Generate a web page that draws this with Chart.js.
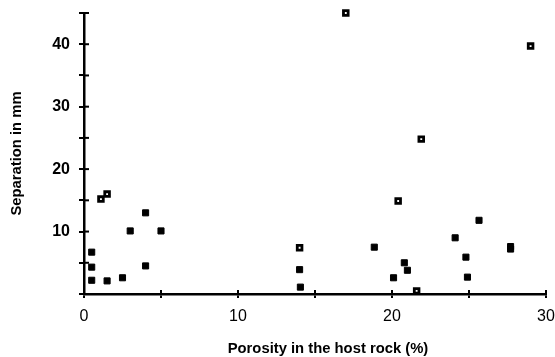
<!DOCTYPE html>
<html>
<head>
<meta charset="utf-8">
<script src="https://cdn.jsdelivr.net/npm/chart.js@4/dist/chart.umd.min.js"></script>
<style>
  html, body { margin: 0; padding: 0; background: #fff; }
  #wrap { width: 555px; height: 357px; }
</style>
</head>
<body>
<div id="wrap"><canvas id="c" width="555" height="357"></canvas></div>
<script>
// Filled squares
const filledX = [0.5, 0.5, 0.5, 1.5, 2.5, 3.0, 4.0, 4.0, 5.0, 14.0, 14.05, 18.85, 20.1, 20.8, 21.0, 24.1, 24.8, 24.9, 25.65, 27.7, 27.7];
const filledY = [6.7, 4.3, 2.2, 2.1, 2.6, 10.1, 13.0, 4.5, 10.1, 3.9, 1.1, 7.5, 2.6, 5.0, 3.8, 9.0, 5.9, 2.7, 11.8, 7.6, 7.2];
// Open squares
const openX = [1.1, 1.5, 14.0, 17.0, 20.4, 21.6, 21.9, 29.0];
const openY = [15.2, 16.0, 7.4, 45.0, 14.9, 0.5, 24.8, 39.7];

const xTitle = 'Porosity in the host rock (%)';
const yTitle = 'Separation in mm';
const xLabelTicks = [0, 10, 20, 30];
const yLabelTicks = [10, 20, 30, 40];

const FONT = '"Liberation Sans", Arial, Helvetica, sans-serif';

const toPts = (xs, ys) => xs.map((x, i) => ({ x: x, y: ys[i] }));

const crossTicks = {
  id: 'crossTicks',
  beforeDatasetsDraw(chart) {
    const ctx = chart.ctx;
    const xs = chart.scales.x, ys = chart.scales.y;
    const a = chart.chartArea;
    ctx.save();
    ctx.strokeStyle = '#000';
    ctx.lineWidth = 2;
    xs.ticks.forEach(t => {
      const px = xs.getPixelForValue(t.value);
      ctx.beginPath(); ctx.moveTo(px, a.bottom - 4); ctx.lineTo(px, a.bottom); ctx.stroke();
    });
    ys.ticks.forEach(t => {
      const py = ys.getPixelForValue(t.value);
      ctx.beginPath(); ctx.moveTo(a.left, py); ctx.lineTo(a.left + 5, py); ctx.stroke();
    });
    // x axis title
    ctx.fillStyle = '#000';
    ctx.font = 'bold 14.8px ' + FONT;
    ctx.textAlign = 'center';
    ctx.textBaseline = 'middle';
    ctx.fillText(xTitle, (a.left + a.right) / 2 + 13, 349);
    ctx.restore();
  }
};

new Chart(document.getElementById('c'), {
  type: 'scatter',
  data: {
    datasets: [
      {
        label: 'filled',
        data: toPts(filledX, filledY),
        pointStyle: 'rect',
        pointRadius: 4.3,
        pointBorderWidth: 1,
        backgroundColor: '#000',
        borderColor: '#000',
        clip: false
      },
      {
        label: 'open',
        data: toPts(openX, openY),
        pointStyle: 'rect',
        pointRadius: 3.3,
        pointBorderWidth: 2.8,
        backgroundColor: '#fff',
        borderColor: '#000',
        clip: false
      }
    ]
  },
  options: {
    responsive: false,
    animation: false,
    events: [],
    layout: { padding: { left: 0, right: 9, top: 13, bottom: 0 } },
    plugins: { legend: { display: false }, tooltip: { enabled: false } },
    scales: {
      x: {
        type: 'linear',
        min: 0, max: 30,
        afterFit(s) { s.height = 63; s.paddingLeft = 0; s.paddingRight = 0; },
        border: { display: true, color: '#000', width: 2.5 },
        grid: { drawOnChartArea: false, drawTicks: true, tickLength: 4, color: '#000', lineWidth: 2 },
        ticks: {
          stepSize: 5,
          autoSkip: false,
          maxRotation: 0,
          padding: 9,
          color: '#000',
          font: { family: FONT, size: 16 },
          callback: v => xLabelTicks.includes(v) ? String(v) : ''
        },
        title: { display: false }
      },
      y: {
        type: 'linear',
        min: 0, max: 45,
        afterFit(s) { s.width = 84; s.paddingTop = 0; s.paddingBottom = 0; },
        border: { display: true, color: '#000', width: 2.5 },
        grid: { drawOnChartArea: false, drawTicks: true, tickLength: 5, color: '#000', lineWidth: 2 },
        ticks: {
          stepSize: 5,
          autoSkip: false,
          padding: 9,
          color: '#000',
          font: { family: FONT, size: 16, weight: 'bold' },
          callback: v => yLabelTicks.includes(v) ? String(v) : ''
        },
        title: {
          display: true,
          text: yTitle,
          color: '#000',
          font: { family: FONT, size: 14.8, weight: 'bold' },
          padding: { top: 8.5, bottom: 0 }
        }
      }
    }
  },
  plugins: [crossTicks]
});
</script>
</body>
</html>
